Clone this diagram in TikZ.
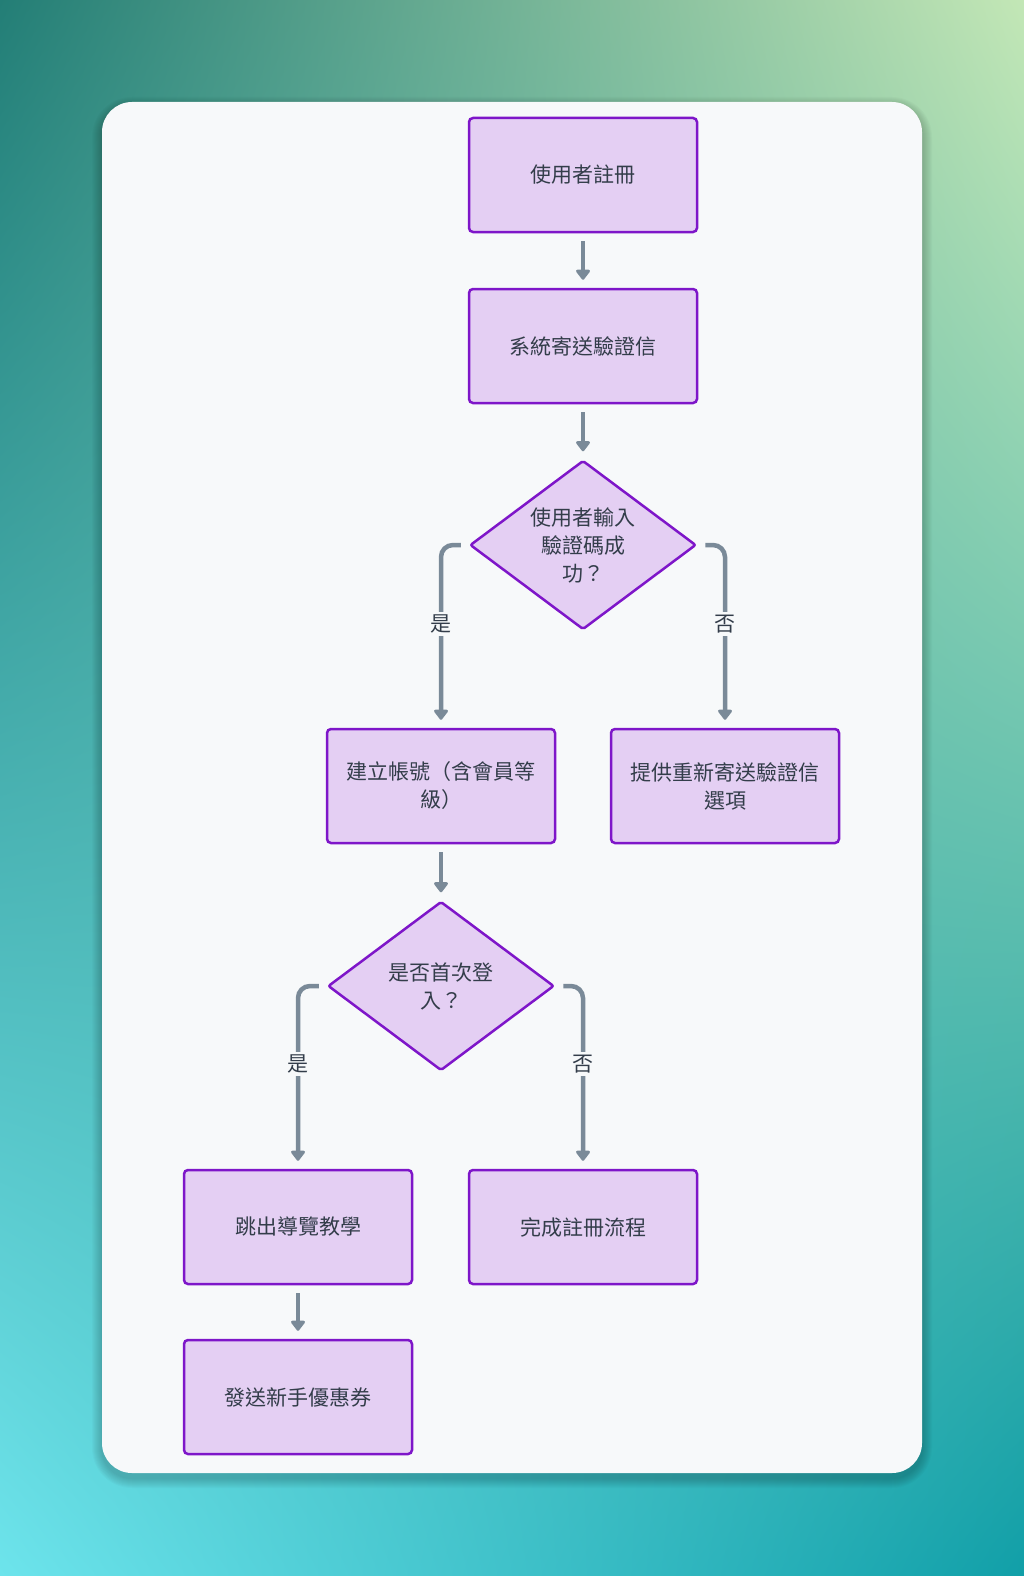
\documentclass[tikz,border=0pt]{standalone}
\usepackage{fontspec}
\setmainfont{Noto Sans CJK TC}
\usetikzlibrary{shapes.geometric,arrows.meta,shadings}
\definecolor{bgTL}{HTML}{237E76}
\definecolor{bgTR}{HTML}{C3E7B6}
\definecolor{bgBL}{HTML}{6DE4EC}
\definecolor{bgBR}{HTML}{119FA8}
\definecolor{card}{HTML}{F7F9FA}
\definecolor{nodefill}{HTML}{E4CFF3}
\definecolor{nodeline}{HTML}{7E16C9}
\definecolor{txt}{HTML}{333D4A}
\definecolor{edge}{HTML}{7A8A98}
\tikzset{
  procbox/.style={rectangle, draw=nodeline, fill=nodefill, line width=2.5pt,
    rounded corners=4pt, minimum width=228pt, minimum height=114pt,
    align=center, text=txt, font=\fontsize{21}{28}\selectfont},
  decbox/.style={diamond, draw=nodeline, fill=nodefill, line width=2.5pt,
    rounded corners=2pt, aspect=1.34, inner sep=0pt,
    minimum width=226pt, minimum height=169pt,
    align=center, text=txt, font=\fontsize{21}{28}\selectfont},
  arr/.style={draw=edge, line width=4.5pt, rounded corners=12pt,
    -{Triangle[width=16pt,length=11pt,round]}, shorten >=8pt, shorten <=8pt},
  lbl/.style={fill=card, text=txt, inner sep=3pt, font=\fontsize{21}{26}\selectfont}
}
\begin{document}
\begin{tikzpicture}[x=1pt,y=-1pt]
\useasboundingbox (0,0) rectangle (1024,1576);
\shade[shading=bilinear interpolation, upper left=bgTL, upper right=bgTR, lower left=bgBL, lower right=bgBR] (0,0) rectangle (1024,1576);
\foreach \i in {1,...,10}{
  \fill[black, opacity=0.018, rounded corners=30pt+\i pt]
    (102-\i,102-\i+5) rectangle (922+\i,1473+\i+5);
}
\fill[card, rounded corners=30pt] (102,102) rectangle (922,1473);

\node[procbox] (n1) at (583,175) {使用者註冊};
\node[procbox] (n2) at (583,346) {系統寄送驗證信};
\node[decbox]  (d1) at (583,545) {使用者輸入\\驗證碼成\\功？};
\node[procbox] (n3) at (441,786) {建立帳號（含會員等\\級）};
\node[procbox] (n4) at (725,786) {提供重新寄送驗證信\\選項};
\node[decbox]  (d2) at (441,986) {是否首次登\\入？};
\node[procbox] (n5) at (298,1227) {跳出導覽教學};
\node[procbox] (n6) at (583,1227) {完成註冊流程};
\node[procbox] (n7) at (298,1397) {發送新手優惠券};

\draw[arr] (n1.south) -- (n2.north);
\draw[arr] (n2.south) -- (d1.north);
\draw[arr] (d1.west) -| (n3.north);
\draw[arr] (d1.east) -| (n4.north);
\draw[arr] (n3.south) -- (d2.north);
\draw[arr] (d2.west) -| (n5.north);
\draw[arr] (d2.east) -| (n6.north);
\draw[arr] (n5.south) -- (n7.north);

\node[lbl] (l1) at (n3.north |- 0,624) {是};
\node[lbl] (l2) at (n4.north |- 0,624) {否};
\node[lbl] (l3) at (n5.north |- 0,1064) {是};
\node[lbl] (l4) at (n6.north |- 0,1064) {否};
\end{tikzpicture}
\end{document}
